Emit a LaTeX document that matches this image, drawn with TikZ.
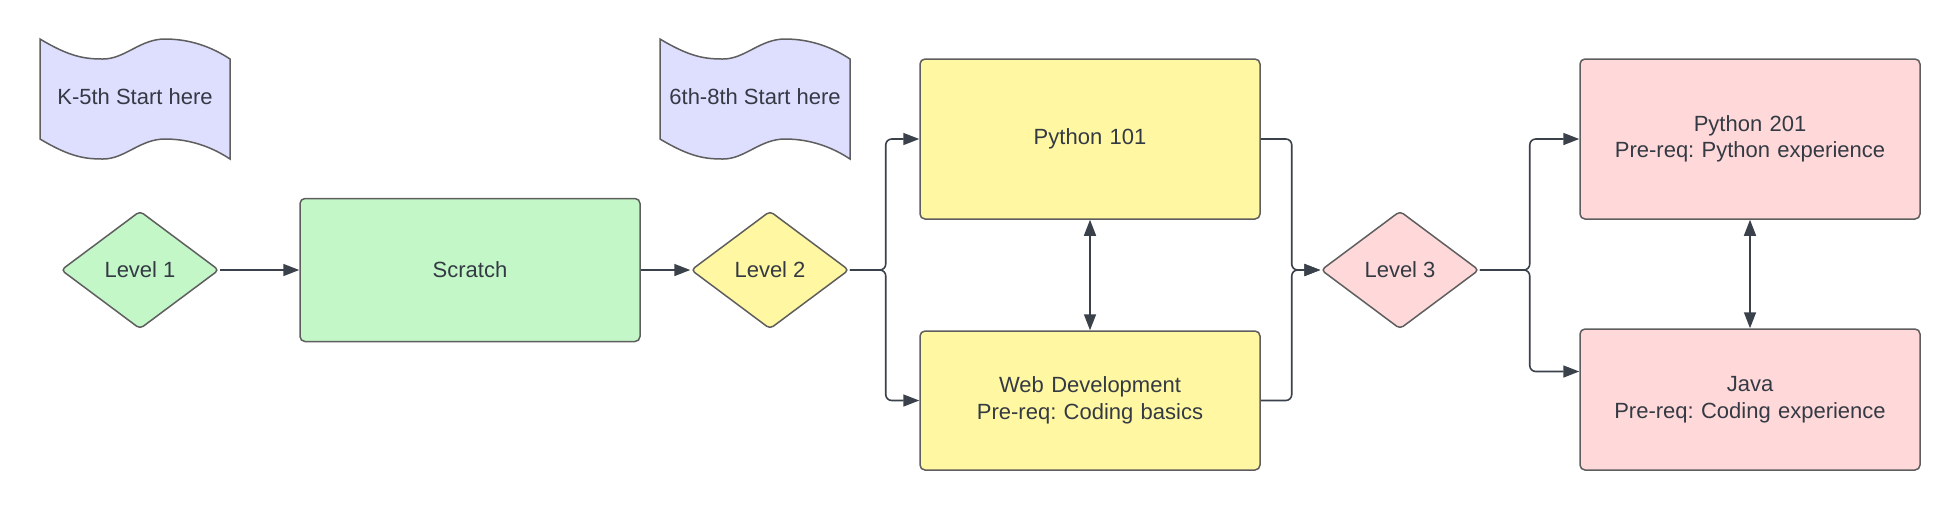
\documentclass[tikz,border=0pt]{standalone}
\usepackage{fontspec}
\setmainfont{Liberation Sans}
\usepackage{xcolor}
\usepackage{tikz}
\usetikzlibrary{shapes.geometric, positioning, calc, arrows.meta}
\definecolor{startblue}{HTML}{DEDEFF}
\definecolor{levelgreen}{HTML}{C3F7C8}
\definecolor{levelyellow}{HTML}{FFF7A1}
\definecolor{levelpink}{HTML}{FFD9D9}
\definecolor{shapeline}{HTML}{5E5E5E}
\definecolor{linegrey}{HTML}{3A414A}
\definecolor{textgrey}{HTML}{343A44}
\frenchspacing

\begin{document}
\begin{tikzpicture}[x=0.5pt, y=-0.5pt, font=\fontsize{11}{13.3}\selectfont, text=textgrey,
	box/.style={draw=shapeline, line width=0.75pt, rounded corners=2.5pt, minimum width=170pt, text width=160pt, align=center, inner sep=0pt},
	level/.style={diamond, draw=shapeline, line width=0.75pt, rounded corners=2pt, minimum width=79pt, minimum height=59pt, inner sep=0pt},
	conn/.style={draw=linegrey, line width=0.8pt, rounded corners=3pt, -{Triangle[length=8pt,width=6pt]}},
	both/.style={draw=linegrey, line width=0.8pt, {Triangle[length=8pt,width=6pt]}-{Triangle[length=8pt,width=6pt]}},
	flag/.style={draw=shapeline, line width=0.75pt, fill=startblue}]
	\useasboundingbox (0,0) rectangle (1960,511);
	\pgfmathsetmacro{\wave}{20}
	\pgfmathsetmacro{\flagh}{100}
	
	\foreach \fx/\fname/\ftext in {0/kfive/K-5th Start here, 620/sixeight/6th-8th Start here}{
		\draw[flag, shift={(\fx,0)}] (40,39) .. controls (70,57) and (85,59) .. (103,59) .. controls (125,59) and (140,39) .. (165,39) .. controls (190,39) and (212,47) .. (230,39+\wave) -- (230,39+\wave+\flagh) .. controls (212,47+\flagh) and (190,39+\flagh) .. (165,39+\flagh) .. controls (140,39+\flagh) and (125,59+\flagh) .. (103,59+\flagh) .. controls (85,59+\flagh) and (70,57+\flagh) .. (40,39+\flagh) -- cycle;
		\node (\fname) at (135+\fx,97) {\ftext};
	}
	
	\node[level, fill=levelgreen] (lvlone) at (140,270) {Level 1\\[3pt]};
	\node[box, fill=levelgreen, minimum height=71.5pt] (scratch) at (470,270) {Scratch};
	\node[level, fill=levelyellow] (lvltwo) at (770,270) {Level 2\\[3pt]};
	\node[box, fill=levelyellow, minimum height=80pt] (pyone) at (1090,139) {Python 101\\[4pt]};
	\node[box, fill=levelyellow, minimum height=69.5pt] (webdev) at (1090,400.5) {Web Development\\Pre-req: Coding basics\\[2pt]};
	\node[level, fill=levelpink] (lvlthree) at (1400,270) {Level 3\\[3pt]};
	\node[box, fill=levelpink, minimum height=80pt] (pytwo) at (1750,139) {Python 201\\Pre-req: Python experience\\[6pt]};
	\node[box, fill=levelpink, minimum height=70.5pt] (java) at (1750,399.5) {Java\\Pre-req: Coding experience};
	
	\draw[conn] (lvlone.east) -- (scratch.west);
	\draw[conn] (scratch.east) -- (lvltwo.west);
	\draw[conn] (lvltwo.east) -- ++(36,0) |- (pyone.west);
	\draw[conn] (lvltwo.east) -- ++(36,0) |- (webdev.west);
	\draw[conn] (pyone.east) -- ++(31,0) |- (lvlthree.west);
	\draw[conn] (webdev.east) -- ++(31,0) |- (lvlthree.west);
	\draw[conn] (lvlthree.east) -- ++(50,0) |- (pytwo.west);
	\draw[conn] (lvlthree.east) -- ++(50,0) |- ([yshift=14pt]java.west);
	\draw[both] (pyone.south) -- (webdev.north);
	\draw[both] (pytwo.south) -- (java.north);
\end{tikzpicture}
\end{document}
